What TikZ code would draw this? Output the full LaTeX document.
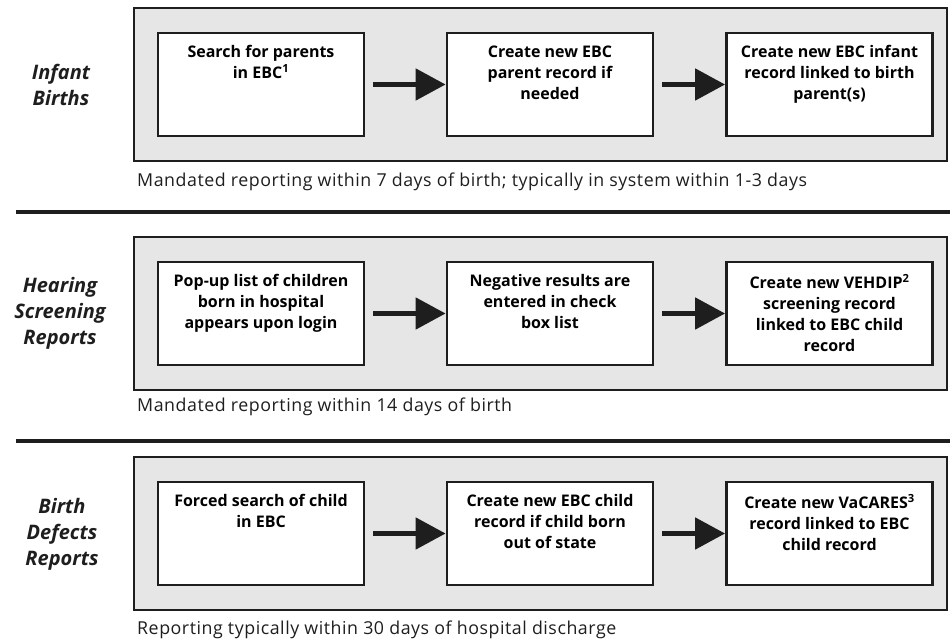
\documentclass[tikz,border=0pt]{standalone}
\usepackage{fontspec}
\setmainfont{Open Sans}
\usetikzlibrary{arrows.meta,positioning}
\definecolor{panelgray}{HTML}{E6E6E6}
\definecolor{inkgray}{HTML}{1E1E1E}
\tikzset{
  panel/.style={draw=inkgray, fill=panelgray, line width=2.5pt, minimum width=813pt, minimum height=153pt, inner sep=0pt},
  stepbox/.style={draw=inkgray, fill=white, line width=2.8pt, minimum width=206pt, minimum height=103pt, inner sep=0pt, font=\fontsize{16}{21}\selectfont\bfseries},
  flow/.style={draw=inkgray, line width=5pt, shorten <=8pt, -{Triangle[length=30pt,width=31pt]}},
  rowlabel/.style={align=center, text=inkgray, font=\fontsize{20}{26}\selectfont\bfseries\itshape},
  note/.style={anchor=west, inner sep=0pt, text=inkgray, font=\fontsize{17.8}{20}\selectfont\addfontfeatures{LetterSpace=3}},
  divider/.style={draw=inkgray, line width=4pt}
}
\newcommand{\steptext}[1]{\parbox[c][78pt][t]{200pt}{\centering #1}}
\begin{document}
\begin{tikzpicture}[x=1pt, y=-1pt]
    \useasboundingbox (0,0) rectangle (950,644);
    % infant births
    \node[rowlabel] (infantlbl) at (61,85) {Infant\\Births};
    \node[panel] (infantpanel) at (540.5,84.5) {};
    \node[stepbox] (infa) at (261,84.5) {\steptext{Search for parents\\in EBC\textsuperscript{1}}};
    \node[stepbox] (infb) at (550,84.5) {\steptext{Create new EBC\\parent record if\\needed}};
    \node[stepbox] (infc) at (829.5,84.5) {\steptext{Create new EBC infant\\record linked to birth\\parent(s)}};
    \draw[flow] (infa) -- (infb);
    \draw[flow] (infb) -- (infc);
    \node[note] (infantnote) at (137,182) {Mandated reporting within 7 days of birth; typically in system within 1-3 days};
    \draw[divider] (16,212) -- (950,212);
    % hearing screening
    \node[rowlabel] (hearlbl) at (60,313) {Hearing\\Screening\\Reports};
    \node[panel] (hearpanel) at (540.5,313.5) {};
    \node[stepbox] (hsa) at (261,313.5) {\steptext{Pop-up list of children\\born in hospital\\appears upon login}};
    \node[stepbox] (hsb) at (550,313.5) {\steptext{Negative results are\\entered in check\\box list}};
    \node[stepbox] (hsc) at (829.5,313.5) {\steptext{Create new VEHDIP\textsuperscript{2}\\screening record\\linked to EBC child\\record}};
    \draw[flow] (hsa) -- (hsb);
    \draw[flow] (hsb) -- (hsc);
    \node[note] (hearnote) at (137,407) {Mandated reporting within 14 days of birth};
    \draw[divider] (16,441) -- (950,441);
    % birth defects
    \node[rowlabel] (defectlbl) at (62,534) {Birth\\Defects\\Reports};
    \node[panel] (defectpanel) at (540.5,533.5) {};
    \node[stepbox] (bda) at (261,533.5) {\steptext{Forced search of child\\in EBC}};
    \node[stepbox] (bdb) at (550,533.5) {\steptext{Create new EBC child\\record if child born\\out of state}};
    \node[stepbox] (bdc) at (829.5,533.5) {\steptext{Create new VaCARES\textsuperscript{3}\\record linked to EBC\\child record}};
    \draw[flow] (bda) -- (bdb);
    \draw[flow] (bdb) -- (bdc);
    \node[note] (defectnote) at (137,630) {Reporting typically within 30 days of hospital discharge};
\end{tikzpicture}
\end{document}
